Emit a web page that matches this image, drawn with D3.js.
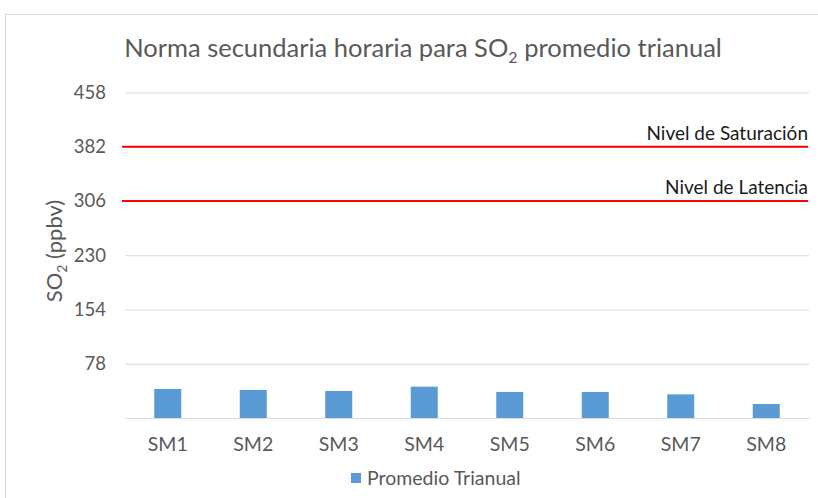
<!DOCTYPE html>
<html>
<head>
<meta charset="utf-8">
<script src="https://cdn.jsdelivr.net/npm/d3@7"></script>
<style>
  body { margin: 0; background: #fff; }
  text { font-family: Lato, "Open Sans", sans-serif; }
</style>
</head>
<body>
<div id="chart"></div>
<script>
// data
const categories = ["SM1", "SM2", "SM3", "SM4", "SM5", "SM6", "SM7", "SM8"];
const promedio = [42.7, 41.3, 39.9, 45.9, 38.5, 38.5, 35.1, 21.6];
const yTicks = [78, 154, 230, 306, 382, 458];
const limitNames = ["Nivel de Saturación", "Nivel de Latencia"];
const limitValues = [382, 306];
const seriesName = "Promedio Trianual";

const W = 818, H = 498;
const plot = { left: 125, right: 809, top: 92.5, bottom: 418 };

let svg = d3.select("#chart").append("svg")
  .attr("width", W)
  .attr("height", H);

// chart border
svg.append("rect")
  .attr("x", 5.5).attr("y", 14.5)
  .attr("width", 840).attr("height", 520)
  .attr("fill", "#fff")
  .attr("stroke", "#d9d9d9");

let x = d3.scaleBand()
  .domain(categories)
  .range([plot.left, plot.right])
  .paddingInner(0.684)
  .paddingOuter(0.342);

let y = d3.scaleLinear()
  .domain([2, 458])
  .range([plot.bottom, plot.top]);

// gridlines + tick labels
let yAxis = svg.append("g")
  .attr("transform", "translate(" + plot.left + ",0)")
  .call(d3.axisLeft(y).tickValues(yTicks).tickSize(-(plot.right - plot.left)).tickPadding(19));
yAxis.select(".domain").remove();
yAxis.selectAll(".tick line").attr("stroke", "#d9d9d9");
yAxis.selectAll(".tick text")
  .attr("fill", "#595959")
  .style("font-size", "18.5px");

// bars
svg.selectAll("rect.bar")
  .data(promedio)
  .enter().append("rect")
    .attr("class", "bar")
    .attr("x", (d, i) => x(categories[i]))
    .attr("y", d => y(d))
    .attr("width", x.bandwidth())
    .attr("height", d => y(2) - y(d))
    .attr("fill", "#5b9bd5");

// category axis
let xAxis = svg.append("g")
  .attr("transform", "translate(0," + plot.bottom + ")")
  .call(d3.axisBottom(x).tickSize(0).tickPadding(19));
xAxis.select(".domain").attr("stroke", "#d9d9d9");
xAxis.selectAll(".tick text")
  .attr("fill", "#595959")
  .style("font-size", "19.5px");

// limit lines
limitValues.forEach(function (v, i) {
  svg.append("line")
    .attr("x1", plot.left - 3).attr("x2", plot.right - 1)
    .attr("y1", y(v)).attr("y2", y(v))
    .attr("stroke", "#ff0000")
    .attr("stroke-width", 2);
  svg.append("text")
    .attr("x", plot.right - 1)
    .attr("y", y(v) - 7)
    .attr("text-anchor", "end")
    .attr("fill", "#1a1a1a")
    .style("font-size", "19px")
    .text(limitNames[i]);
});

// title
let title = svg.append("text")
  .attr("x", 423)
  .attr("y", 57)
  .attr("text-anchor", "middle")
  .attr("fill", "#595959")
  .style("font-size", "25.5px");
title.append("tspan").text("Norma secundaria horaria para SO");
title.append("tspan").attr("dy", 6).style("font-size", "16px").text("2");
title.append("tspan").attr("dy", -6).text(" promedio trianual");

// y axis title
let yTitle = svg.append("text")
  .attr("transform", "translate(62,251) rotate(-90)")
  .attr("text-anchor", "middle")
  .attr("fill", "#595959")
  .style("font-size", "22px");
yTitle.append("tspan").text("SO");
yTitle.append("tspan").attr("dy", 5).style("font-size", "14px").text("2");
yTitle.append("tspan").attr("dy", -5).text(" (ppbv)");

// legend
svg.append("rect")
  .attr("x", 351).attr("y", 473)
  .attr("width", 10).attr("height", 10)
  .attr("fill", "#5b9bd5");
svg.append("text")
  .attr("x", 367).attr("y", 485)
  .attr("fill", "#595959")
  .style("font-size", "19.5px")
  .text(seriesName);
</script>
</body>
</html>
